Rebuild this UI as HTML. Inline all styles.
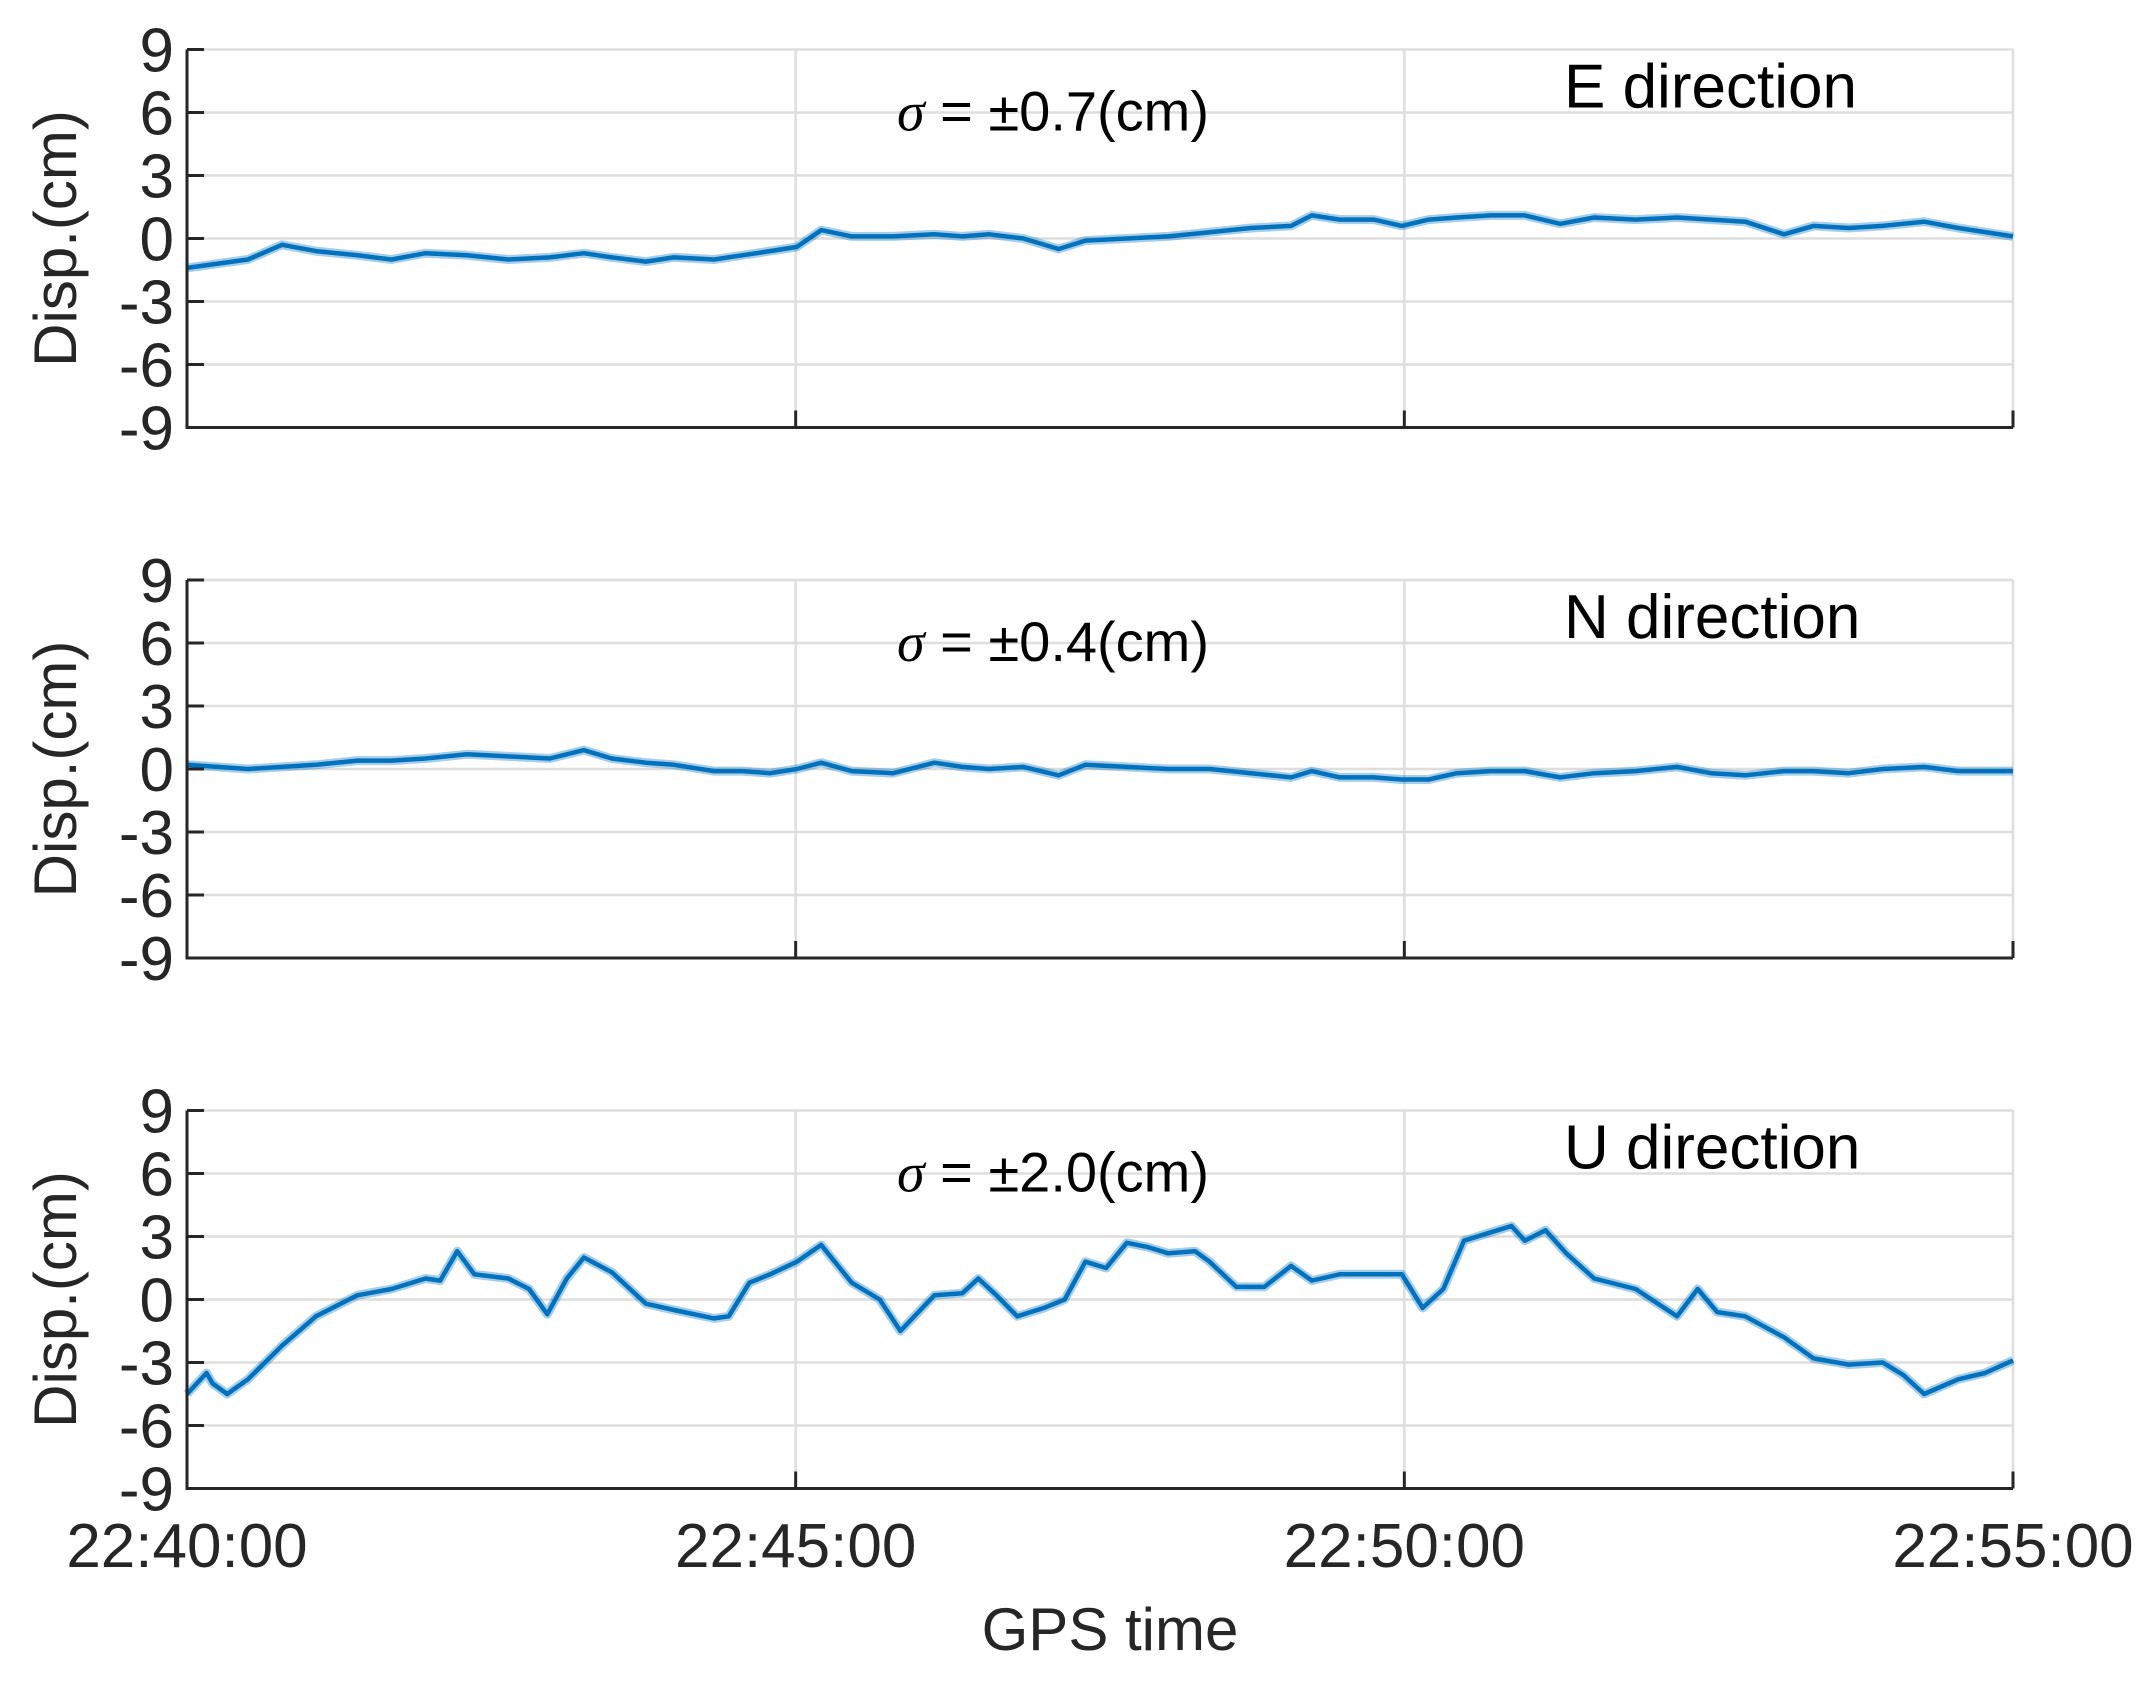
<!DOCTYPE html>
<html><head><meta charset="utf-8">
<style>
html,body{margin:0;padding:0;background:#fff;}
svg{display:block;font-family:"Liberation Sans",sans-serif;}
</style></head>
<body>
<svg id="chart" width="2155" height="1683" viewBox="0 0 2155 1683" xmlns="http://www.w3.org/2000/svg"></svg>
<script>
const yTicks = [9, 6, 3, 0, -3, -6, -9];
const xTickMinutes = [0, 5, 10, 15];
const xTickLabels = ["22:40:00", "22:45:00", "22:50:00", "22:55:00"];
const panelNames = ["E direction", "N direction", "U direction"];
const sigmaValues = ["\u00b10.7(cm)", "\u00b10.4(cm)", "\u00b12.0(cm)"];

const timeEN = [0,0.5,0.78,1.06,1.4,1.68,1.96,2.3,2.64,2.98,3.26,3.49,3.77,4.0,4.33,4.56,4.79,5.01,5.21,5.46,5.8,6.14,6.37,6.59,6.87,7.16,7.38,7.72,8.06,8.4,8.74,9.07,9.24,9.47,9.75,9.98,10.2,10.43,10.71,10.99,11.28,11.56,11.9,12.24,12.52,12.8,13.12,13.36,13.65,13.93,14.27,14.55,15];
const valuesE = [-1.4,-1.0,-0.3,-0.6,-0.8,-1.0,-0.7,-0.8,-1.0,-0.9,-0.7,-0.9,-1.1,-0.9,-1.0,-0.8,-0.6,-0.4,0.4,0.1,0.1,0.2,0.1,0.2,0,-0.5,-0.1,0,0.1,0.3,0.5,0.6,1.1,0.9,0.9,0.6,0.9,1.0,1.1,1.1,0.7,1.0,0.9,1.0,0.9,0.8,0.2,0.6,0.5,0.6,0.8,0.5,0.1];
const valuesN = [0.2,0,0.1,0.2,0.4,0.4,0.5,0.7,0.6,0.5,0.9,0.5,0.3,0.2,-0.1,-0.1,-0.2,0,0.3,-0.1,-0.2,0.3,0.1,0,0.1,-0.3,0.2,0.1,0,0,-0.2,-0.4,-0.1,-0.4,-0.4,-0.5,-0.5,-0.2,-0.1,-0.1,-0.4,-0.2,-0.1,0.1,-0.2,-0.3,-0.1,-0.1,-0.2,0,0.1,-0.1,-0.1];
const timeU = [0,0.16,0.21,0.33,0.5,0.78,1.06,1.4,1.68,1.96,2.08,2.22,2.36,2.64,2.81,2.96,3.12,3.26,3.49,3.77,4.0,4.33,4.45,4.62,4.79,5.01,5.21,5.46,5.69,5.86,6.14,6.37,6.5,6.65,6.82,7.04,7.21,7.38,7.55,7.72,7.89,8.06,8.28,8.4,8.62,8.85,9.07,9.24,9.47,9.75,9.98,10.15,10.32,10.49,10.71,10.88,10.99,11.16,11.33,11.56,11.9,12.24,12.41,12.57,12.8,13.12,13.36,13.65,13.93,14.1,14.27,14.55,14.77,15];
const valuesU = [-4.5,-3.5,-4.0,-4.5,-3.8,-2.2,-0.8,0.2,0.5,1.0,0.9,2.3,1.2,1.0,0.5,-0.7,1.0,2.0,1.3,-0.2,-0.5,-0.9,-0.8,0.8,1.2,1.8,2.6,0.8,0,-1.5,0.2,0.3,1.0,0.2,-0.8,-0.4,0,1.8,1.5,2.7,2.5,2.2,2.3,1.8,0.6,0.6,1.6,0.9,1.2,1.2,1.2,-0.4,0.5,2.8,3.2,3.5,2.8,3.3,2.2,1.0,0.5,-0.8,0.5,-0.6,-0.8,-1.8,-2.8,-3.1,-3.0,-3.6,-4.5,-3.8,-3.5,-2.9];

const seriesTimes = [timeEN, timeEN, timeU];
const seriesValues = [valuesE, valuesN, valuesU];

const NS = "http://www.w3.org/2000/svg";
const svg = document.getElementById("chart");
const X0 = 187, X1 = 2013, H = 378;
const tops = [49.5, 580, 1110.5];
function xs(t){ return X0 + (t - 0) / 15 * (X1 - X0); }
function mk(tag, attrs, parent){
  const e = document.createElementNS(NS, tag);
  for (const k in attrs) e.setAttribute(k, attrs[k]);
  (parent || svg).appendChild(e);
  return e;
}
const keys = ["e","n","u"];
for (let p = 0; p < 3; p++){
  const top = tops[p];
  const ys = v => top + (9 - v) / 18 * H;
  const g = mk("g", {});
  
  
  yTicks.forEach(v => {
    const l = mk("line", {x1:X0, x2:X1, y1:ys(v), y2:ys(v), stroke:"#dedede", "stroke-width":2.5}, g);
    
    
  });
  xTickMinutes.forEach(t => {
    const l = mk("line", {x1:xs(t), x2:xs(t), y1:top, y2:top+H, stroke:"#dedede", "stroke-width":2.5}, g);
    
    
  });
  const tt = seriesTimes[p], vv = seriesValues[p];
  let d = "";
  for (let i = 0; i < tt.length; i++) d += (i ? "L" : "M") + xs(tt[i]).toFixed(1) + "," + ys(vv[i]).toFixed(1);
  const halo = mk("path", {d:d, fill:"none", stroke:"#0072BD", "stroke-opacity":0.35, "stroke-width":9, "stroke-linejoin":"round"}, g);
  
  
  const line = mk("path", {d:d, fill:"none", stroke:"#0072BD", "stroke-width":4.5, "stroke-linejoin":"round"}, g);
  
  
  const ax = mk("path", {d:`M${X0},${top}V${top+H}H${X1}`, fill:"none", stroke:"#262626", "stroke-width":3}, g);
  
  
  yTicks.forEach(v => {
    const l = mk("line", {x1:X0, x2:X0+17, y1:ys(v), y2:ys(v), stroke:"#262626", "stroke-width":3}, g);
    
    
    const tx = mk("text", {x:174, y:ys(v)+22, "text-anchor":"end", "font-size":62, fill:"#262626"}, g);
    tx.textContent = String(v);
    
    
  });
  xTickMinutes.forEach(t => {
    const l = mk("line", {x1:xs(t), x2:xs(t), y1:top+H, y2:top+H-17, stroke:"#262626", "stroke-width":3}, g);
    
    
  });
  const yl = mk("text", {x:0, y:0, transform:`translate(76,${top+H/2}) rotate(-90)`, "text-anchor":"middle", "font-size":60, fill:"#262626"}, g);
  yl.textContent = "Disp.(cm)";
  
  
  const nm = mk("text", {x:1564, y:top+58, "font-size":62, fill:"#000"}, g);
  nm.textContent = panelNames[p];
  
  
  const sg = mk("text", {x:897, y:top+81, "font-size":56, fill:"#000"}, g);
  
  
  const s1 = mk("tspan", {"font-family":"Liberation Serif, serif", "font-style":"italic"}, sg);
  s1.textContent = "\u03c3";
  const s2 = mk("tspan", {}, sg);
  s2.textContent = " = " + sigmaValues[p];
}
xTickMinutes.forEach((t, i) => {
  const tx = mk("text", {x:xs(t), y:1567, "text-anchor":"middle", "font-size":62, fill:"#262626"});
  tx.textContent = xTickLabels[i];
  
  
});
const xt = mk("text", {x:1110, y:1650, "text-anchor":"middle", "font-size":60, fill:"#262626"});
xt.textContent = "GPS time";


</script>
</body></html>
